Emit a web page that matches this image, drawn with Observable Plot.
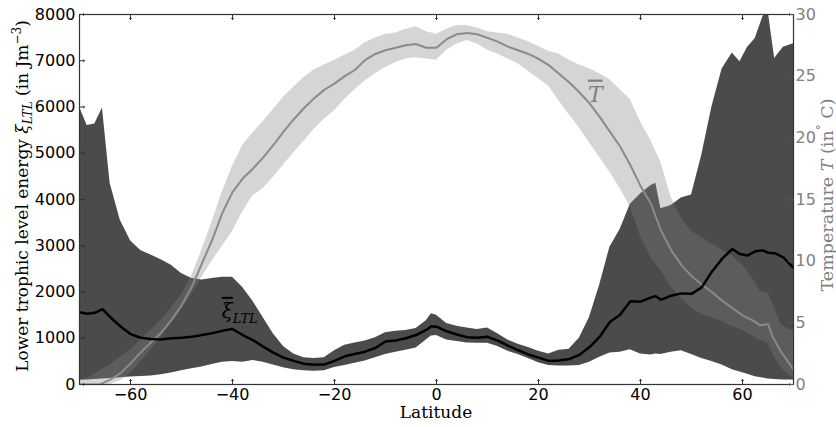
<!DOCTYPE html>
<html><head><meta charset="utf-8">
<script src="https://cdn.jsdelivr.net/npm/d3@7"></script>
<script src="https://cdn.jsdelivr.net/npm/@observablehq/plot@0.6"></script>
<style>body{margin:0;background:#fff;} #chart svg{display:block;}</style>
</head><body><div id="chart"></div>
<script>
// Lower trophic level energy (J m^-3) vs latitude
const latXi = [-70,-68.5,-67,-65.5,-64,-62,-60,-58,-56,-54,-52,-50,-48,-46,-44,-42,-40,-38,-36,-34,-32,-30,-28,-26,-24,-22,-20,-18,-16,-14,-12,-10,-8,-6,-4,-2,-1,0,2,4,6,8,10,12,14,16,18,20,22,24,26,28,30,32,34,36,38,40,42,43,44,46,48,50,52,54,56,58,59.5,61,62.5,64,65,66.3,68,70];
const xiHigh = [6000,5600,5630,5980,4350,3550,3110,2900,2800,2700,2580,2400,2290,2260,2290,2320,2320,2100,1800,1450,1100,820,660,580,560,580,730,850,900,940,1010,1120,1150,1170,1210,1380,1530,1500,1320,1260,1220,1190,1220,1100,960,870,800,720,660,740,760,1000,1450,2150,2970,3350,3900,4120,4300,4350,3800,3870,4030,4100,4950,6000,6820,7170,6980,7290,7480,7950,8100,7050,7290,7370];
const xiLow = [90,100,110,120,130,145,160,175,185,210,250,300,340,380,430,480,500,480,520,480,420,360,320,295,285,295,370,410,460,510,580,650,700,740,790,960,1050,1060,960,930,900,890,890,820,720,650,560,470,410,400,400,410,480,590,680,700,750,660,640,660,650,700,730,650,560,500,420,320,270,220,170,140,120,110,100,100];
const xiMean = [1560,1530,1550,1630,1460,1260,1090,1010,985,975,1000,1010,1030,1070,1110,1160,1200,1070,960,820,690,580,510,450,425,430,510,610,660,710,790,930,950,1000,1070,1180,1260,1250,1150,1080,1020,1010,1030,950,840,740,650,580,510,520,550,640,810,1030,1350,1510,1800,1790,1880,1910,1830,1920,1970,1960,2100,2440,2720,2930,2820,2790,2880,2900,2850,2840,2750,2520];

// Temperature (deg C) vs latitude
const latT = [-70,-68,-66,-64,-62,-60,-58,-56,-54,-52,-50,-48,-46,-44,-42,-40,-38,-36,-34,-32,-30,-28,-26,-24,-22,-20,-18,-16,-14,-12,-10,-8,-6,-4,-2,0,2,4,6,8,10,12,14,16,18,20,22,24,26,28,30,32,34,36,38,40,42,44,46,48,50,52,54,56,58,60,62,63.5,65,66,67.5,69,70];
const tMean = [0,0,0,0.4,0.9,1.7,2.6,3.4,4.2,5.2,6.4,7.9,9.8,11.7,13.9,15.6,16.7,17.5,18.4,19.4,20.5,21.5,22.4,23.2,23.9,24.4,25.0,25.5,26.3,26.8,27.1,27.3,27.5,27.6,27.3,27.3,28.0,28.4,28.5,28.4,28.1,27.8,27.4,27.1,26.8,26.4,25.9,25.2,24.5,23.7,22.8,21.7,20.5,19.3,17.8,16.1,14.7,12.5,10.9,9.7,8.8,8.1,7.5,6.8,6.2,5.6,5.2,4.8,4.9,3.8,2.7,1.8,1.2];
const tHigh = [0.3,0.6,1.1,1.6,2.2,2.8,3.6,4.4,5.2,6.2,7.3,8.8,10.9,13.2,15.6,17.7,19.4,20.4,21.3,22.3,23.3,24.1,24.9,25.5,25.9,26.3,26.7,27.1,27.7,28.1,28.4,28.5,28.8,29.0,28.6,28.4,28.8,29.1,29.1,28.9,28.6,28.5,28.4,28.1,27.8,27.4,27.0,26.8,26.3,25.9,25.6,25.2,24.7,23.9,23.1,21.3,19.8,18.0,15.2,13.5,12.4,11.9,11.4,10.9,10.4,9.7,8.6,7.5,7.4,6.5,4.9,4.5,4.4];
const tLow = [0,0,0,0,0.3,0.9,1.8,2.8,3.8,5.0,6.1,7.3,8.7,10.0,11.2,12.4,14.0,15.3,15.9,16.8,17.8,18.8,19.7,20.7,21.5,22.2,23.1,23.9,24.6,25.2,25.7,26.1,26.4,26.5,26.4,26.3,27.1,27.6,27.9,27.6,27.1,26.8,26.4,26.0,25.4,24.8,24.2,23.0,21.9,20.8,19.6,18.4,17.2,15.9,14.4,12.0,10.3,9.2,7.9,7.0,6.2,5.7,5.4,5.1,4.7,4.4,3.9,3.6,3.3,2.4,1.4,0.8,0.5];

const xTicks = [-60,-40,-20,0,20,40,60];
const yTicks = [0,1000,2000,3000,4000,5000,6000,7000,8000];
const tTicks = [0,5,10,15,20,25,30];
const XI_MAX = 8000, T_MAX = 30;
const toXi = t => t * XI_MAX / T_MAX;   // twin-axis mapping

// label anchors (data space)
const xiLabelAt = {lat: -42, value: 1430};
const tLabelAt = {lat: 29.8, temp: 22.9};

const xiData = latXi.map((lat, i) => ({lat, mean: xiMean[i], low: xiLow[i], high: xiHigh[i]}));
const tData = latT.map((lat, i) => ({lat, mean: toXi(tMean[i]), low: toXi(tLow[i]), high: toXi(tHigh[i])}));

const axisColor = "#333";
const plot = Plot.plot({
  width: 836, height: 427,
  marginLeft: 79, marginRight: 43, marginTop: 14, marginBottom: 43,
  style: {fontFamily: "DejaVu Sans", fontSize: "16px", background: "#fff", overflow: "visible"},
  x: {domain: [-70, 70]},
  y: {domain: [0, XI_MAX]},
  marks: [
    Plot.areaY(xiData, {x: "lat", y1: "low", y2: "high", fill: "#4b4b4b", clip: true}),
    Plot.areaY(tData, {x: "lat", y1: "low", y2: "high", fill: "#808080", fillOpacity: 0.33, clip: true}),
    Plot.line(tData, {x: "lat", y: "mean", stroke: "#8a8a8a", strokeWidth: 2, clip: true}),
    Plot.line(xiData, {x: "lat", y: "mean", stroke: "#000", strokeWidth: 2.5, clip: true}),
    Plot.frame({stroke: axisColor, strokeWidth: 1.2}),
    // inward ticks
    Plot.vector(xTicks, {x: d => d, frameAnchor: "bottom", rotate: 0, length: 5, anchor: "start", stroke: axisColor, strokeWidth: 1}),
    Plot.vector(xTicks, {x: d => d, frameAnchor: "top", rotate: 180, length: 5, anchor: "start", stroke: axisColor, strokeWidth: 1}),
    Plot.vector(yTicks, {y: d => d, frameAnchor: "left", rotate: 90, length: 5, anchor: "start", stroke: axisColor, strokeWidth: 1}),
    Plot.vector(tTicks.map(toXi), {y: d => d, frameAnchor: "right", rotate: -90, length: 5, anchor: "start", stroke: "#555", strokeWidth: 1}),
    Plot.axisX({ticks: xTicks, tickSize: 0, tickPadding: 4, label: null, fill: "#000", fontSize: 16}),
    Plot.axisY({ticks: yTicks, tickFormat: d3.format("d"), tickSize: 0, tickPadding: 4, label: null, fill: "#000", fontSize: 16, anchor: "left"}),
    Plot.axisY({ticks: tTicks.map(toXi), tickFormat: d => d3.format("d")(Math.round(d * T_MAX / XI_MAX)), tickSize: 0, tickPadding: 2, label: null, fill: "#808080", fontSize: 16, anchor: "right"})
  ]
});
document.getElementById("chart").appendChild(plot);

// Axis titles and in-plot labels with sub/superscripts (real text)
const svg = d3.select(plot);
const sx = plot.scale("x"), sy = plot.scale("y");
const serif = "DejaVu Serif";

const yl = svg.append("text")
  .attr("transform", "translate(28,196) rotate(-90)")
  .attr("text-anchor", "middle").attr("font-family", serif).attr("font-size", 17).attr("fill", "#000");
yl.append("tspan").text("Lower trophic level energy ");
yl.append("tspan").attr("font-style", "italic").text("ξ");
yl.append("tspan").attr("font-style", "italic").attr("font-size", 12).attr("dy", 4).text("LTL");
yl.append("tspan").attr("dy", -4).text(" (in Jm");
yl.append("tspan").attr("font-size", 12).attr("dy", -7).text("−3");
yl.append("tspan").attr("dy", 7).text(")");

const rl = svg.append("text")
  .attr("transform", "translate(833,195) rotate(-90)")
  .attr("text-anchor", "middle").attr("font-family", serif).attr("font-size", 17.5).attr("fill", "#808080");
rl.append("tspan").text("Temperature ");
rl.append("tspan").attr("font-style", "italic").text("T");
rl.append("tspan").text(" (in");
rl.append("tspan").attr("font-size", 12).attr("dy", -7).text("°");
rl.append("tspan").attr("dy", 7).text(" C)");

svg.append("text")
  .attr("x", sx.apply(0)).attr("y", 418)
  .attr("text-anchor", "middle").attr("font-family", serif).attr("font-size", 17).attr("fill", "#000")
  .text("Latitude");

const xl = svg.append("text")
  .attr("x", sx.apply(xiLabelAt.lat)).attr("y", sy.apply(xiLabelAt.value))
  .attr("text-anchor", "start").attr("font-family", serif).attr("fill", "#000");
xl.append("tspan").attr("font-style", "italic").attr("font-size", 20).style("text-decoration", "overline").text("ξ");
xl.append("tspan").attr("font-style", "italic").attr("font-size", 13).attr("dy", 5).text("LTL");

svg.append("text")
  .attr("x", sx.apply(tLabelAt.lat)).attr("y", sy.apply(toXi(tLabelAt.temp)))
  .attr("text-anchor", "start").attr("font-family", serif).attr("font-style", "italic").attr("font-size", 22).attr("fill", "#808080")
  .style("text-decoration", "overline")
  .text("T");
</script>
</body></html>
